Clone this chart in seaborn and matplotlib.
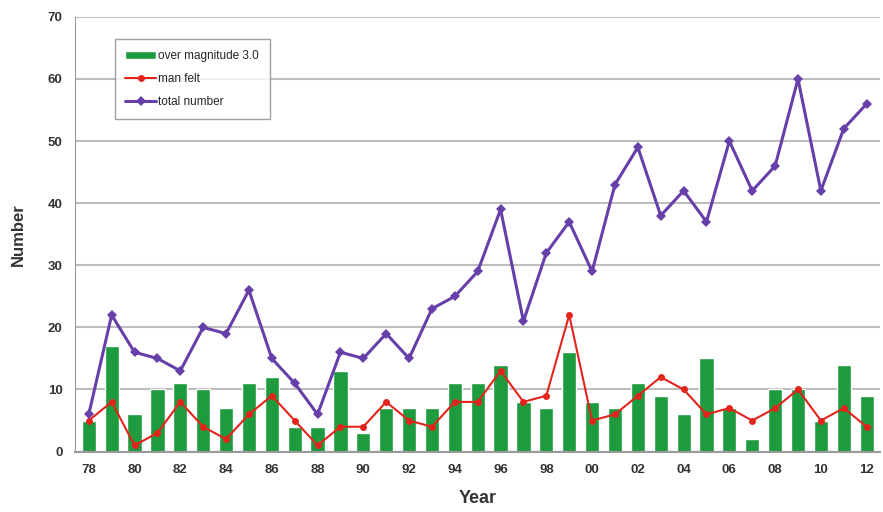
import matplotlib
matplotlib.use("Agg")
import matplotlib.pyplot as plt
import seaborn as sns
import pandas as pd
import numpy as np

years = ["78", "79", "80", "81", "82", "83", "84", "85", "86", "87", "88", "89",
         "90", "91", "92", "93", "94", "95", "96", "97", "98", "99", "00", "01",
         "02", "03", "04", "05", "06", "07", "08", "09", "10", "11", "12"]
over_mag3 = [5, 17, 6, 10, 11, 10, 7, 11, 12, 4, 4, 13, 3, 7, 7, 7, 11, 11, 14,
             8, 7, 16, 8, 7, 11, 9, 6, 15, 7, 2, 10, 10, 5, 14, 9]
man_felt = [5, 8, 1, 3, 8, 4, 2, 6, 9, 5, 1, 4, 4, 8, 5, 4, 8, 8, 13, 8, 9, 22,
            5, 6, 9, 12, 10, 6, 7, 5, 7, 10, 5, 7, 4]
total_number = [6, 22, 16, 15, 13, 20, 19, 26, 15, 11, 6, 16, 15, 19, 15, 23, 25,
                29, 39, 21, 32, 37, 29, 43, 49, 38, 42, 37, 50, 42, 46, 60, 42,
                52, 56]

df = pd.DataFrame({"year": years, "idx": np.arange(len(years)),
                   "over": over_mag3, "felt": man_felt, "total": total_number})

sns.set_style("white")
plt.rcParams["font.family"] = ["Liberation Sans", "DejaVu Sans"]

fig, ax = plt.subplots(figsize=(8.83, 5.12), dpi=100)
fig.subplots_adjust(left=0.085, right=0.997, top=0.967, bottom=0.118)

green = "#1e9a3f"
red = "#e3241d"
purple = "#6640a8"

sns.barplot(data=df, x="idx", y="over", color=green, width=0.62, saturation=1,
            ax=ax, label="over magnitude 3.0", zorder=2)
sns.lineplot(data=df, x="idx", y="felt", color=red, marker="o", markersize=5,
             markeredgewidth=0, linewidth=1.5, ax=ax, label="man felt", zorder=3)
sns.lineplot(data=df, x="idx", y="total", color=purple, marker="D", markersize=5,
             markeredgewidth=0, linewidth=2.2, ax=ax, label="total number", zorder=4)

ax.set_ylim(0, 70)
ax.set_yticks(range(0, 71, 10))
ax.set_xlim(-0.6, len(years) - 0.4)
ax.set_xticks(range(0, len(years), 2))
ax.set_xticklabels(years[::2])
ax.tick_params(axis="both", labelsize=9.5, length=0, pad=9)
for lbl in ax.get_yticklabels() + ax.get_xticklabels():
    lbl.set_fontweight("bold")
    lbl.set_color("#333333")

ax.yaxis.grid(True, color="#bdbdbd", linewidth=1.5, zorder=0)
ax.set_axisbelow(True)
for side in ["top", "right"]:
    ax.spines[side].set_visible(False)
ax.spines["left"].set_color("#9a9a9a")
ax.spines["bottom"].set_color("#9a9a9a")
ax.spines["bottom"].set_linewidth(1.5)

ax.set_xlabel("Year", fontsize=13, fontweight="bold", color="#333333", labelpad=10)
ax.set_ylabel("Number", fontsize=12, fontweight="bold", color="#333333", labelpad=16)

# legend order: bars first, then the two lines
handles, labels = ax.get_legend_handles_labels()
order = [labels.index(n) for n in ["over magnitude 3.0", "man felt", "total number"]]
leg = ax.legend([handles[i] for i in order], [labels[i] for i in order],
                loc="upper left", bbox_to_anchor=(0.042, 0.962), fontsize=8.5,
                frameon=True, fancybox=False, edgecolor="#888888",
                handlelength=2.6, handletextpad=0.2, labelspacing=0.95,
                borderpad=0.9)
leg.get_frame().set_linewidth(1.0)

fig.savefig("out.png", dpi=100)
